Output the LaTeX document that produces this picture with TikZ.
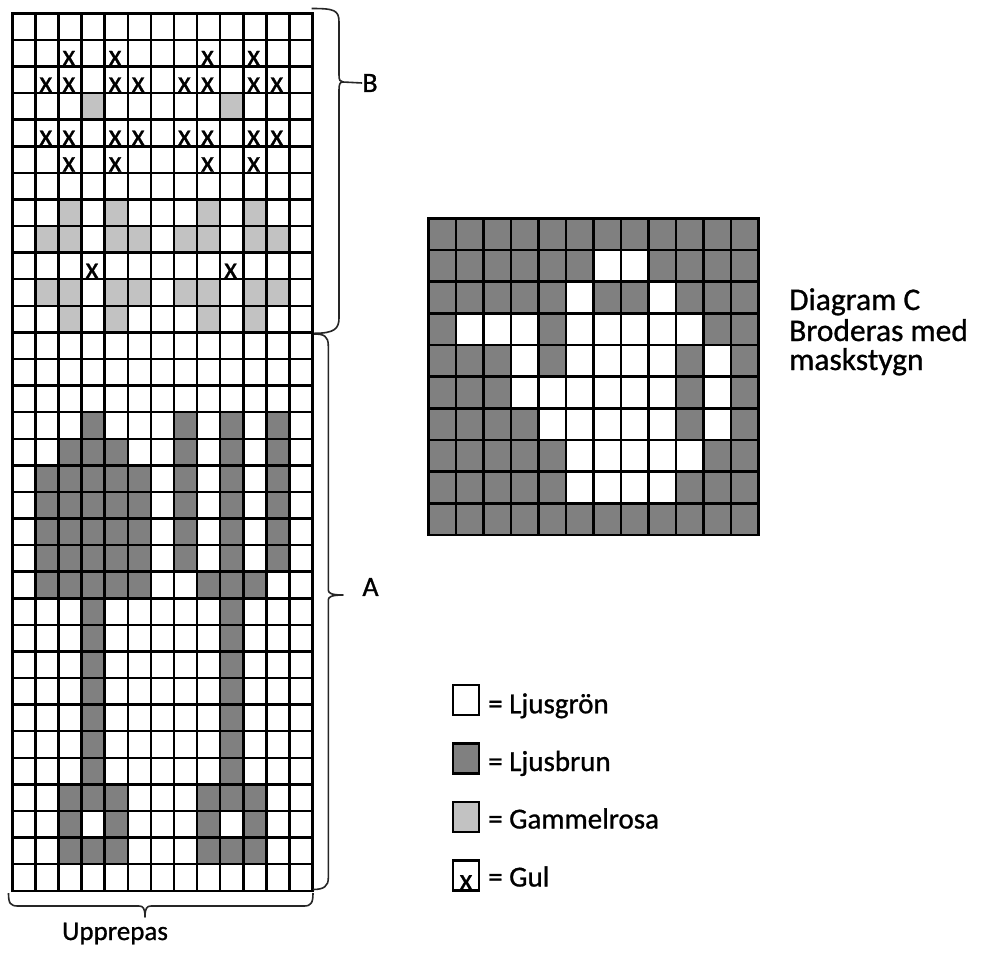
\documentclass[tikz,border=0pt]{standalone}
\usepackage{fontspec}
\setmainfont{Carlito}[FakeBold=0.9]
\definecolor{dkgray}{gray}{0.5}
\definecolor{ltgray}{gray}{0.76}
\tikzset{
  gridline/.style={line width=2.5pt, draw=black},
  xmark/.style={font=\fontsize{30}{30}\selectfont, inner sep=0pt, anchor=base},
  brc/.style={line width=1.6pt, draw=black!85, line join=round},
  lbl/.style={font=\fontsize{28}{28}\selectfont, inner sep=0pt},
  legbox/.style={line width=2.2pt, draw=black},
  legtxt/.style={font=\fontsize{29}{29}\selectfont, inner sep=0pt, anchor=base west},
  ctxt/.style={font=\fontsize{31.5}{31.5}\selectfont, inner sep=0pt, anchor=base west},
}
\begin{document}
\begin{tikzpicture}[x=1pt,y=-1pt]
\useasboundingbox (0,0) rectangle (1000,954);
\fill[white] (0,0) rectangle (1000,954);

% ---------- left chart ----------
\def\LX{12.3}\def\LW{23.1}\def\LY{13.3}\def\LH{26.59}
% dark cells
\foreach \r/\cs in {15/{3,7,9,11},16/{2,3,4,7,9,11},
    17/{1,2,3,4,5,7,9,11},18/{1,2,3,4,5,7,9,11},19/{1,2,3,4,5,7,9,11},20/{1,2,3,4,5,7,9,11},
    21/{1,2,3,4,5,8,9,10},
    22/{3,9},23/{3,9},24/{3,9},25/{3,9},26/{3,9},27/{3,9},28/{3,9},
    29/{2,3,4,8,9,10},30/{2,4,8,10},31/{2,3,4,8,9,10}}
  \foreach \c in \cs
    \fill[dkgray] ({\LX+\c*\LW},{\LY+\r*\LH}) rectangle ++(\LW,\LH);
% light cells
\foreach \r/\cs in {3/{3,9},7/{2,4,8,10},8/{1,2,4,5,7,8,10,11},
    10/{1,2,4,5,7,8,10,11},11/{2,4,8,10}}
  \foreach \c in \cs
    \fill[ltgray] ({\LX+\c*\LW},{\LY+\r*\LH}) rectangle ++(\LW,\LH);
% grid lines
\foreach \i in {1,...,12}
  \draw[gridline] ({\LX+\i*\LW},\LY) -- ({\LX+\i*\LW},{\LY+33*\LH});
\foreach \j in {1,...,32}
  \draw[gridline] (\LX,{\LY+\j*\LH}) -- ({\LX+13*\LW},{\LY+\j*\LH});
\draw[gridline] (\LX,\LY) rectangle ({\LX+13*\LW},{\LY+33*\LH});
% x marks
\foreach \r/\cs in {1/{2,4,8,10},2/{1,2,4,5,7,8,10,11},4/{1,2,4,5,7,8,10,11},
    5/{2,4,8,10},9/{3,9}}
  \foreach \c in \cs
    \node[xmark] (xm-\r-\c) at ({\LX+(\c+0.45)*\LW},{\LY+(\r+1)*\LH-1.2}) {x};

% ---------- braces ----------
\coordinate (tipB) at (343,82);
\draw[brc] (311.7,8.5) .. controls (334,8.5) and (339,10) .. (339,22) -- (339,75)
  .. controls (339,80) and (340,82) .. (tipB)
  .. controls (340,82) and (339,84) .. (339,90) -- (339,318)
  .. controls (339,329) and (334,333.3) .. (314,333.3);
\node[lbl] (lblB) at (370,83) {B};
\draw[brc] (tipB) -- (lblB.west);

\coordinate (tipA) at (343,595);
\draw[brc] (314,334) .. controls (324,334) and (328.3,336) .. (328.3,346) -- (328.3,590)
  .. controls (328.3,593) and (331,595) .. (tipA)
  .. controls (331,595) and (328.3,597) .. (328.3,600) -- (328.3,878)
  .. controls (328.3,886) and (324,889.5) .. (313,889.5);
\node[lbl] (lblA) at (370.5,587) {A};

\coordinate (tipU) at (145,917);
\draw[brc] (8.5,893) .. controls (8.5,903) and (10,906) .. (18,906) -- (139,906)
  .. controls (143,906) and (145,908) .. (tipU)
  .. controls (145,908) and (147,906) .. (151,906) -- (304,906)
  .. controls (311,906) and (313,903) .. (313,893);
\node[lbl, anchor=base, font=\fontsize{27}{27}\selectfont] (lblU) at (115,940) {Upprepas};

% ---------- diagram C ----------
\def\RX{428.3}\def\RW{27.5}\def\RY{218.3}\def\RH{31.67}
\fill[dkgray] (\RX,\RY) rectangle ++({12*\RW},{10*\RH});
\foreach \r/\cs in {1/{6,7},2/{5,8},3/{1,2,3,5,6,7,8,9},4/{3,5,6,7,8,10},
    5/{3,4,5,6,7,8,10},6/{4,5,6,7,8,10},7/{5,6,7,8,9},8/{5,6,7,8}}
  \foreach \c in \cs
    \fill[white] ({\RX+\c*\RW},{\RY+\r*\RH}) rectangle ++(\RW,\RH);
\foreach \i in {1,...,11}
  \draw[gridline] ({\RX+\i*\RW},\RY) -- ({\RX+\i*\RW},{\RY+10*\RH});
\foreach \j in {1,...,9}
  \draw[gridline] (\RX,{\RY+\j*\RH}) -- ({\RX+12*\RW},{\RY+\j*\RH});
\draw[gridline] (\RX,\RY) rectangle ({\RX+12*\RW},{\RY+10*\RH});

\node[ctxt] (c1) at (789,310) {Diagram C};
\node[ctxt] (c2) at (789,341) {Broderas med};
\node[ctxt] (c3) at (789,370) {maskstygn};

% ---------- legend ----------
\draw[legbox, fill=white]  (452.7,685)   rectangle (479.3,715)   ;
\draw[legbox, fill=dkgray] (452.7,743.5) rectangle (479.3,773.5) ;
\draw[legbox, fill=ltgray] (452.7,802)   rectangle (479.3,832)   ;
\draw[legbox, fill=white]  (452.7,860.5) rectangle (479.3,890.5) ;
\node[xmark] (legx) at (466,889.5) {x};
\node[legtxt] (l1) at (488,713.3) {= Ljusgrön};
\node[legtxt] (l2) at (488,771) {= Ljusbrun};
\node[legtxt] (l3) at (488,828.5) {= Gammelrosa};
\node[legtxt] (l4) at (488,886.5) {= Gul};
\end{tikzpicture}
\end{document}
